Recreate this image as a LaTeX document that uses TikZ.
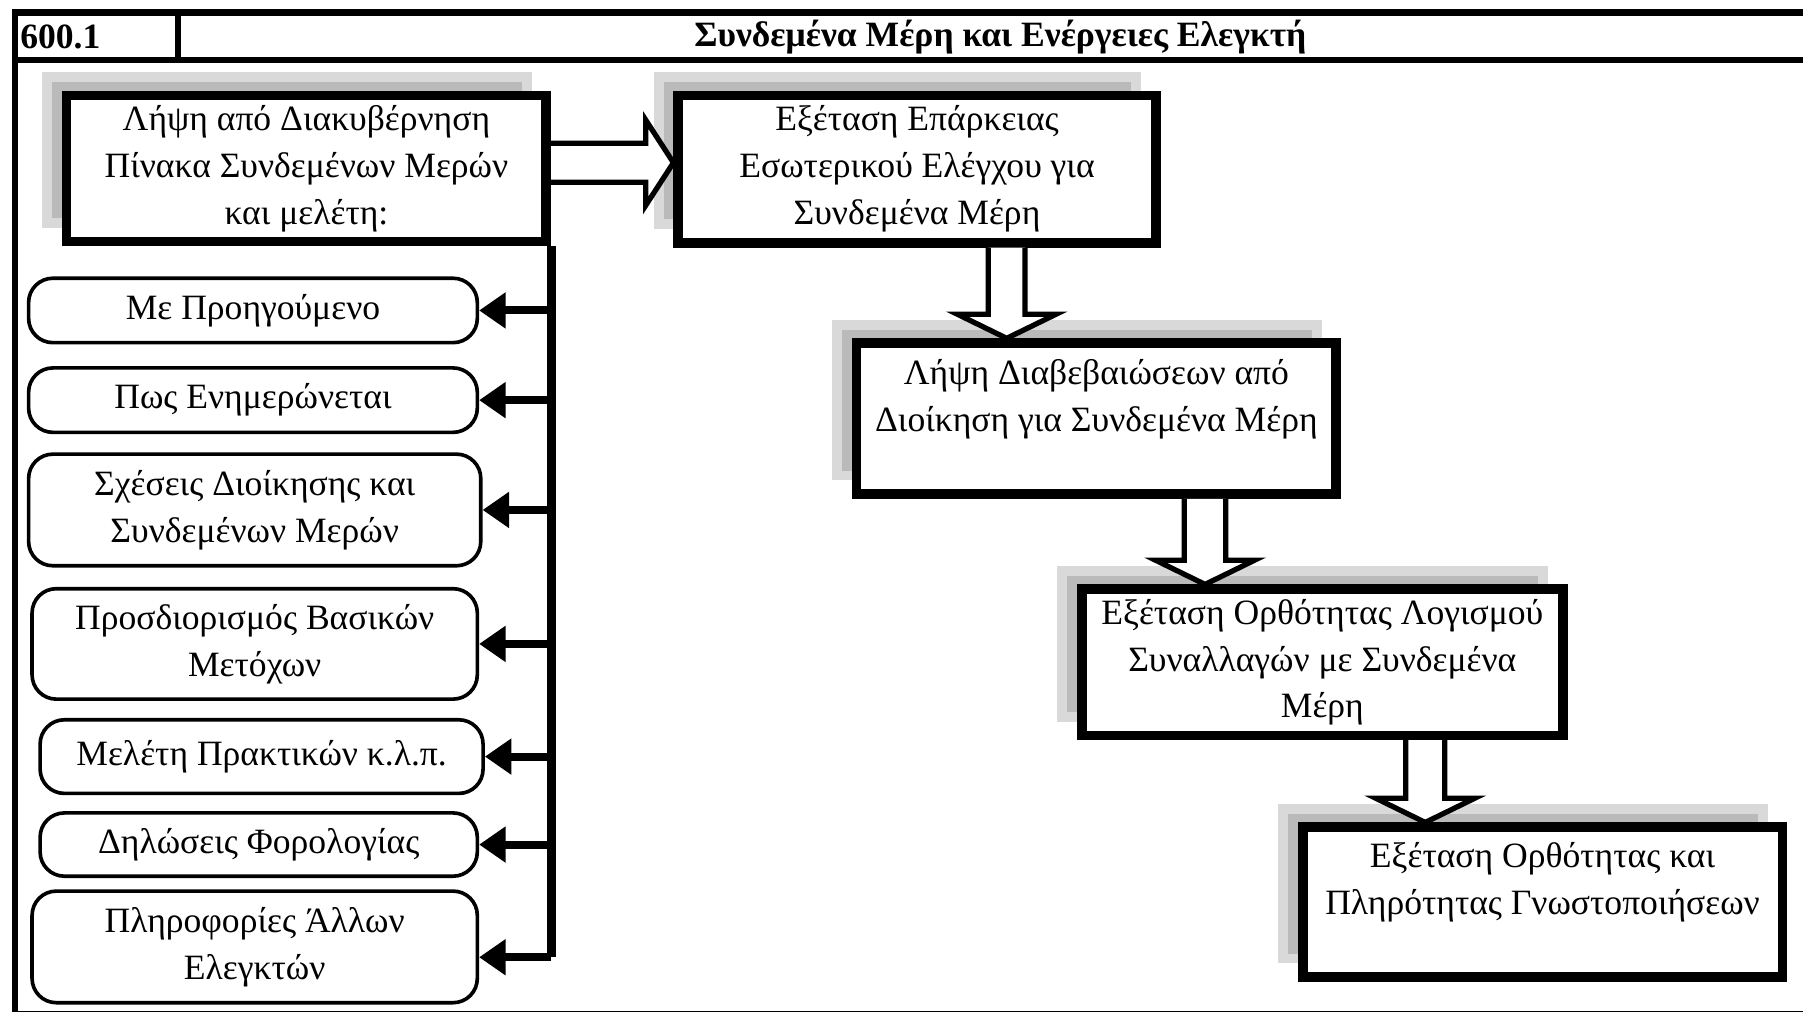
\documentclass[tikz,border=0pt]{standalone}
\usepackage{fontspec}
\setmainfont{Liberation Serif}
\usepackage{tikz}
\usetikzlibrary{
  arrows.meta,
  positioning, calc,
  shadows, backgrounds
}
\newcommand{\diagfont}{\fontsize{8.8}{11.6}\selectfont}
\tikzset{
  stepbox/.style={rectangle,draw=black,line width=2.4pt,fill=white,align=center,font=\diagfont,inner sep=1pt,
    drop shadow={shadow xshift=-0.17cm,shadow yshift=0.16cm,fill=black!27,draw=black!15,line width=2.4pt,opacity=1}},
  itembox/.style={rectangle,rounded corners=6pt,draw=black,line width=0.9pt,fill=white,align=center,font=\diagfont,inner sep=1pt},
  hollowarr/.style={draw=black,line width=1.3pt,fill=white,line join=miter},
  itemarr/.style={-{Triangle[length=0.23cm,width=0.30cm]},line width=2pt},
  trunkline/.style={line width=2.2pt},
  frameline/.style={line width=1.6pt}
}

\begin{document}
\begin{tikzpicture}[x=0.01cm,y=-0.01cm]
  \useasboundingbox (0,0) rectangle (1568,880);
  \clip (0,0) rectangle (1568,880);
  \fill[white] (0,0) rectangle (1568,880);

  %% Frame and header
  \draw[frameline] (13,11) rectangle (1585,882);
  \draw[frameline] (13,52) -- (1585,52);
  \draw[frameline] (155,11) -- (155,52);
  \node[anchor=west,font=\diagfont\bfseries,inner sep=0pt] (code) at (17,32) {600.1};
  \node[font=\diagfont\bfseries,inner sep=0pt] (title) at (870,32) {Συνδεμένα Μέρη και Ενέργειες Ελεγκτή};

  %% Main steps
  \node[stepbox,minimum width=4.17cm,minimum height=1.27cm] (lipsi) at (266.5,146.5)
    {Λήψη από Διακυβέρνηση\\Πίνακα Συνδεμένων Μερών\\και μελέτη:};
  \node[stepbox,minimum width=4.15cm,minimum height=1.28cm] (eparkeia) at (797.5,147)
    {Εξέταση Επάρκειας\\Εσωτερικού Ελέγχου για\\Συνδεμένα Μέρη};
  \node[stepbox,minimum width=4.17cm,minimum height=1.31cm] (diavev) at (953.5,364)
    {Λήψη Διαβεβαιώσεων από\\Διοίκηση για Συνδεμένα Μέρη\\\mbox{}};
  \node[stepbox,minimum width=4.18cm,minimum height=1.27cm] (logismos) at (1150,576)
    {Εξέταση Ορθότητας Λογισμού\\Συναλλαγών με Συνδεμένα\\Μέρη};
  \node[stepbox,minimum width=4.17cm,minimum height=1.30cm] (gnosto) at (1341.5,784.5)
    {Εξέταση Ορθότητας και\\Πληρότητας Γνωστοποιήσεων\\\mbox{}};

  %% Items studied
  \node[itembox,minimum width=3.90cm,minimum height=0.56cm] (m1) at (220,270) {Με Προηγούμενο};
  \node[itembox,minimum width=3.90cm,minimum height=0.56cm] (m2) at (220,348) {Πως Ενημερώνεται};
  \node[itembox,minimum width=3.93cm,minimum height=0.97cm] (m3) at (221.5,443.5) {Σχέσεις Διοίκησης και\\Συνδεμένων Μερών};
  \node[itembox,minimum width=3.87cm,minimum height=0.96cm] (m4) at (221.5,560) {Προσδιορισμός Βασικών\\Μετόχων};
  \node[itembox,minimum width=3.85cm,minimum height=0.64cm] (m5) at (227.5,658) {Μελέτη Πρακτικών κ.λ.π.};
  \node[itembox,minimum width=3.80cm,minimum height=0.55cm] (m6) at (225,734.5) {Δηλώσεις Φορολογίας};
  \node[itembox,minimum width=3.87cm,minimum height=0.97cm] (m7) at (221.5,823.5) {Πληροφορίες Άλλων\\Ελεγκτών};

  %% Trunk and item arrows
  \coordinate (m7in) at ($(m7.east)+(0,9)$);
  \draw[trunkline] (lipsi.south east) -- (lipsi.south east |- m7in);
  \draw[itemarr] (lipsi.south east |- m1.east) -- (m1.east);
  \draw[itemarr] (lipsi.south east |- m2.east) -- (m2.east);
  \draw[itemarr] (lipsi.south east |- m3.east) -- (m3.east);
  \draw[itemarr] (lipsi.south east |- m4.east) -- (m4.east);
  \draw[itemarr] (lipsi.south east |- m5.east) -- (m5.east);
  \draw[itemarr] (lipsi.south east |- m6.east) -- (m6.east);
  \draw[itemarr] (lipsi.south east |- m7in) -- (m7in);

  %% Block arrows
  \coordinate (a1s) at ($(lipsi.east)+(0,-5)$);
  \coordinate (a1e) at (eparkeia.west |- a1s);
  \draw[hollowarr] ($(a1s)+(0,-17)$) -- ($(a1e)+(-24,-17)$) -- ($(a1e)+(-24,-37)$) -- (a1e)
    -- ($(a1e)+(-24,37)$) -- ($(a1e)+(-24,17)$) -- ($(a1s)+(0,17)$);

  \coordinate (a2e) at ($(diavev.north)+(-78,0)$);
  \coordinate (a2s) at (a2e |- eparkeia.south);
  \draw[hollowarr] ($(a2s)+(-16,0)$) -- ($(a2e)+(-16,-21)$) -- ($(a2e)+(-43,-21)$) -- (a2e)
    -- ($(a2e)+(43,-21)$) -- ($(a2e)+(16,-21)$) -- ($(a2s)+(16,0)$);

  \coordinate (a3e) at ($(logismos.north)+(-102,0)$);
  \coordinate (a3s) at (a3e |- diavev.south);
  \draw[hollowarr] ($(a3s)+(-18,0)$) -- ($(a3e)+(-18,-21)$) -- ($(a3e)+(-43,-21)$) -- (a3e)
    -- ($(a3e)+(43,-21)$) -- ($(a3e)+(18,-21)$) -- ($(a3s)+(18,0)$);

  \coordinate (a4e) at ($(gnosto.north)+(-102,0)$);
  \coordinate (a4s) at (a4e |- logismos.south);
  \draw[hollowarr] ($(a4s)+(-17,0)$) -- ($(a4e)+(-17,-21)$) -- ($(a4e)+(-43,-21)$) -- (a4e)
    -- ($(a4e)+(43,-21)$) -- ($(a4e)+(17,-21)$) -- ($(a4s)+(17,0)$);
\end{tikzpicture}
\end{document}
